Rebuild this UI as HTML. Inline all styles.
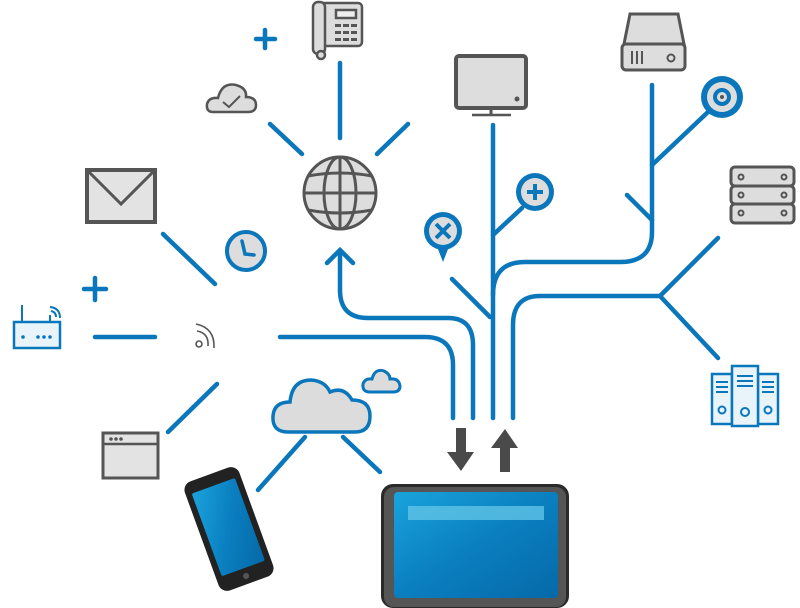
<!DOCTYPE html>
<html><head><meta charset="utf-8"><style>html,body{margin:0;padding:0;background:#fff}svg{display:block}</style></head>
<body>
<svg width="800" height="608" viewBox="0 0 800 608" xmlns="http://www.w3.org/2000/svg">
<defs>
<linearGradient id="scr" x1="0" y1="0" x2="1" y2="1"><stop offset="0" stop-color="#1aa3dc"/><stop offset="0.5" stop-color="#0a7fc0"/><stop offset="1" stop-color="#0669a8"/></linearGradient>
</defs>
<g fill="none" stroke="#0a76bb" stroke-width="4.5" stroke-linecap="round">
<line x1="340" y1="63" x2="340" y2="138"/>
<line x1="270" y1="124" x2="302" y2="154"/>
<line x1="408" y1="124" x2="377" y2="154"/>
<line x1="163" y1="234" x2="215" y2="284"/>
<line x1="95" y1="337" x2="155" y2="337"/>
<line x1="217" y1="384" x2="168" y2="432"/>
<line x1="305" y1="437" x2="258" y2="490"/>
<line x1="343" y1="437" x2="380" y2="472"/>
<path d="M280 337 H425 Q453 337 453 365 V418"/>
<path d="M340 252 V290 Q340 318 368 318 H448 Q473 318 473 345 V418"/>
<path d="M327 263 L340 250 L353 263"/>
<line x1="493" y1="125" x2="493" y2="418"/>
<line x1="493" y1="235" x2="522" y2="208"/>
<line x1="452" y1="279" x2="490" y2="317"/>
<path d="M493 295 Q493 262 525 262 H620 Q652 262 652 232 V85"/>
<line x1="652" y1="220" x2="627" y2="195"/>
<line x1="652" y1="165" x2="708" y2="112"/>
<path d="M513 418 V325 Q513 296 540 296 H660"/>
<line x1="660" y1="296" x2="718" y2="238"/>
<line x1="660" y1="296" x2="718" y2="358"/>
</g>
<g stroke="#0a76bb" stroke-width="4.5" stroke-linecap="round">
<line x1="256" y1="39" x2="275" y2="39"/><line x1="265" y1="30" x2="265" y2="48"/>
<line x1="84" y1="289" x2="106" y2="289"/><line x1="95" y1="278" x2="95" y2="300"/>
</g>
<g stroke="#555" stroke-width="2.5" fill="#ddd">
<rect x="314" y="3" width="48" height="43" rx="4"/>
<rect x="313" y="2" width="12" height="52" rx="5"/>
<circle cx="321" cy="55" r="4"/>
<rect x="336" y="10" width="20" height="8" fill="#eee"/>
</g>
<g fill="#555"><rect x="335" y="24" width="6" height="3"/><rect x="343" y="24" width="6" height="3"/><rect x="351" y="24" width="6" height="3"/><rect x="335" y="31" width="6" height="3"/><rect x="343" y="31" width="6" height="3"/><rect x="351" y="31" width="6" height="3"/><rect x="335" y="38" width="6" height="3"/><rect x="343" y="38" width="6" height="3"/><rect x="351" y="38" width="6" height="3"/></g>
<path d="M213 112 Q206 112 207 104 Q209 97 218 98 Q222 82 236 85 Q247 88 246 97 Q256 97 256 105 Q256 112 248 112 Z" fill="#ddd" stroke="#555" stroke-width="2.5"/>
<path d="M223 102 L229 107 L240 96" fill="none" stroke="#555" stroke-width="2"/>
<g stroke="#555" stroke-width="3" fill="none">
<circle cx="340" cy="193" r="36" fill="#ddd"/>
<ellipse cx="340" cy="193" rx="16" ry="36"/>
<line x1="340" y1="157" x2="340" y2="229"/>
<line x1="304" y1="193" x2="376" y2="193"/>
<path d="M308 176 Q340 170 372 176 M308 210 Q340 216 372 210"/>
</g>
<rect x="87" y="170" width="68" height="52" fill="#e3e3e3" stroke="#555" stroke-width="4"/>
<path d="M89 172 L121 204 L153 172" fill="none" stroke="#555" stroke-width="3"/>
<circle cx="246" cy="251" r="19" fill="#ddd" stroke="#0a76bb" stroke-width="4"/>
<path d="M242 241 L245 254 L254 255" fill="none" stroke="#0a76bb" stroke-width="3.5" stroke-linecap="round"/>
<rect x="14" y="322" width="46" height="26" fill="#e8f3fa" stroke="#0a76bb" stroke-width="2.5"/>
<g fill="#0a76bb"><circle cx="23" cy="337" r="1.8"/><circle cx="38" cy="337" r="1.8"/><circle cx="44" cy="337" r="1.8"/><circle cx="50" cy="337" r="1.8"/></g>
<g stroke="#0a76bb" stroke-width="2" fill="none"><line x1="22" y1="305" x2="22" y2="322"/><line x1="50" y1="315" x2="50" y2="322"/><path d="M51 311 Q56 312 56 317 M50 307 Q60 308 60 318"/></g>
<g stroke="#555" stroke-width="1.6" fill="none"><circle cx="199" cy="344" r="3"/><path d="M197 331 Q209 333 208 346 M196 324 Q215 328 214 348"/></g>
<rect x="103" y="433" width="55" height="45" fill="#e3e3e3" stroke="#555" stroke-width="3"/>
<line x1="103" y1="444" x2="158" y2="444" stroke="#555" stroke-width="2.5"/>
<g fill="#555"><circle cx="111" cy="439" r="1.8"/><circle cx="116" cy="439" r="1.8"/><circle cx="121" cy="439" r="1.8"/></g>
<path d="M288 432 Q272 432 273 416 Q274 402 290 402 Q292 380 311 380 Q325 381 330 392 Q344 386 352 400 Q370 400 370 416 Q370 432 355 432 Z" fill="#dcdcdc" stroke="#0a76bb" stroke-width="3.5"/>
<path d="M370 392 Q362 392 363 384 Q365 378 372 379 Q375 368 384 371 Q390 374 390 379 Q399 378 400 386 Q400 392 393 392 Z" fill="#dcdcdc" stroke="#0a76bb" stroke-width="3"/>
<rect x="456" y="56" width="70" height="52" rx="3" fill="#ddd" stroke="#555" stroke-width="4"/>
<circle cx="517" cy="99" r="2.5" fill="#555"/>
<line x1="491" y1="108" x2="491" y2="114" stroke="#555" stroke-width="3"/>
<line x1="472" y1="115" x2="511" y2="115" stroke="#555" stroke-width="2.5"/>
<path d="M436 244 L443 262 L450 244 Z" fill="#0a76bb"/>
<circle cx="443" cy="231" r="19" fill="#0a76bb"/>
<circle cx="443" cy="231" r="14" fill="#ddd"/>
<path d="M436 224 L450 238 M450 224 L436 238" stroke="#0a76bb" stroke-width="4"/>
<circle cx="535" cy="192" r="19" fill="#0a76bb"/>
<circle cx="535" cy="192" r="14" fill="#ddd"/>
<path d="M527 192 H543 M535 184 V200" stroke="#0a76bb" stroke-width="4"/>
<path d="M630 14 H678 L684 44 H624 Z" fill="#ddd" stroke="#555" stroke-width="3"/>
<rect x="622" y="44" width="63" height="26" rx="4" fill="#ddd" stroke="#555" stroke-width="3"/>
<g stroke="#555" stroke-width="2"><line x1="632" y1="51" x2="632" y2="64"/><line x1="637" y1="51" x2="637" y2="64"/><line x1="642" y1="51" x2="642" y2="64"/></g>
<circle cx="671" cy="58" r="3.5" fill="none" stroke="#555" stroke-width="2"/>
<circle cx="722" cy="97" r="21" fill="#0a76bb"/>
<circle cx="722" cy="97" r="15" fill="#ddd"/>
<circle cx="722" cy="97" r="9" fill="#0a76bb"/>
<circle cx="722" cy="97" r="5" fill="#ddd"/>
<circle cx="722" cy="97" r="2" fill="#555"/>
<g fill="#ddd" stroke="#555" stroke-width="3">
<rect x="731" y="167" width="63" height="19" rx="4"/><rect x="731" y="186" width="63" height="18" rx="4"/><rect x="731" y="204" width="63" height="19" rx="4"/>
</g>
<g fill="none" stroke="#555" stroke-width="2"><circle cx="741" cy="177" r="2.5"/><circle cx="784" cy="177" r="2.5"/><circle cx="741" cy="195" r="2.5"/><circle cx="784" cy="195" r="2.5"/><circle cx="741" cy="213" r="2.5"/><circle cx="784" cy="213" r="2.5"/></g>
<g fill="#e8f3fa" stroke="#0a76bb" stroke-width="2.5">
<rect x="712" y="374" width="20" height="50"/><rect x="758" y="374" width="20" height="50"/><rect x="732" y="366" width="26" height="60"/>
</g>
<g stroke="#0a76bb" stroke-width="2"><path d="M716 382 H728 M716 387 H728 M716 392 H728 M762 382 H774 M762 387 H774 M762 392 H774 M737 376 H753 M737 381 H753 M737 386 H753"/></g>
<g fill="none" stroke="#0a76bb" stroke-width="2"><circle cx="722" cy="410" r="3.5"/><circle cx="768" cy="410" r="3.5"/><circle cx="745" cy="412" r="4"/></g>
<path d="M456 428 H466 V452 H474 L461 471 L447 452 H456 Z" fill="#4a4a4a"/>
<path d="M500 472 H510 V448 H518 L505 429 L491 448 H500 Z" fill="#4a4a4a"/>
<rect x="381" y="484" width="188" height="124" rx="12" fill="#2a2a2a"/>
<rect x="384" y="487" width="182" height="120" rx="10" fill="#555"/>
<rect x="394" y="492" width="164" height="106" rx="4" fill="url(#scr)"/>
<rect x="408" y="506" width="136" height="14" fill="#5fc3e6" opacity="0.8"/>
<g transform="translate(229 529) rotate(-20)">
<rect x="-29" y="-58" width="58" height="116" rx="9" fill="#222"/>
<rect x="-23" y="-46" width="46" height="88" rx="2" fill="url(#scr)"/>
<circle cx="0" cy="50" r="3" fill="#555"/>
</g>
</svg>
</body></html>
